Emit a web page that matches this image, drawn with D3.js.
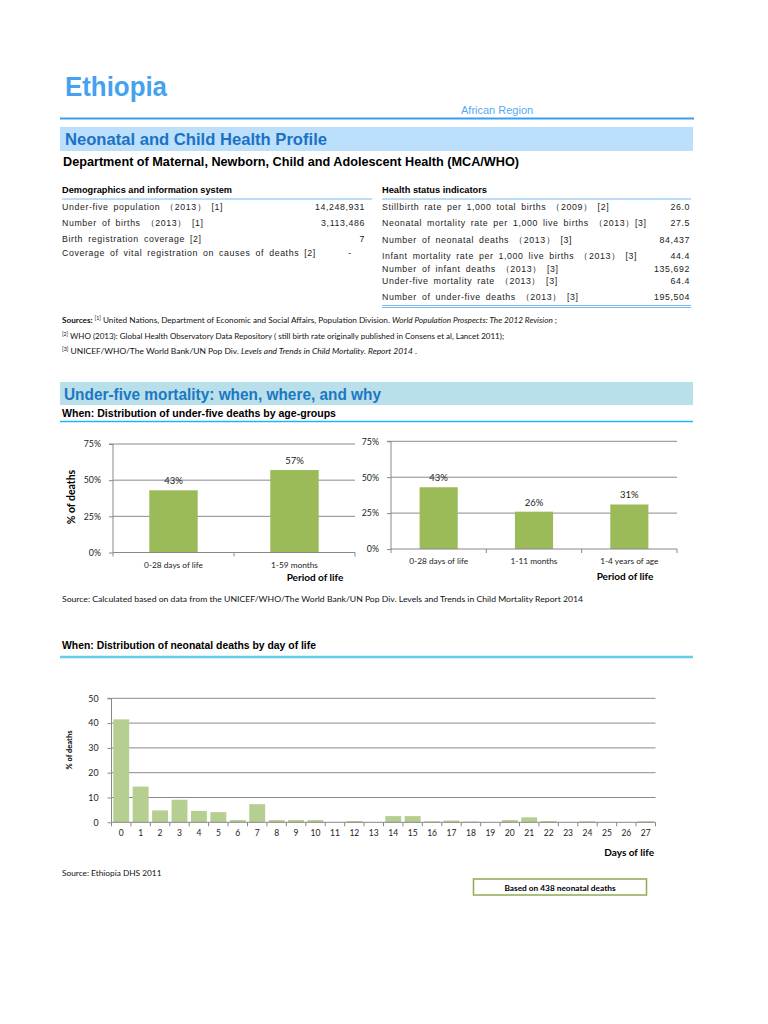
<!DOCTYPE html>
<html><head><meta charset="utf-8">
<script src="https://cdn.jsdelivr.net/npm/d3@7"></script>
<style>body{margin:0;background:#fff}svg{display:block}</style>
</head><body><svg id="c" width="768" height="1024"></svg>
<script>
// ---------- data ----------
const country = "Ethiopia";
const region = "African  Region";
const demoLabels = ["Under-five population （2013） [1]", "Number of births （2013） [1]", "Birth registration coverage [2]", "Coverage of vital registration on causes of deaths [2]"];
const demoValues = ["14,248,931", "3,113,486", "7", "-"];
const healthLabels = ["Stillbirth rate per 1,000 total births （2009） [2]", "Neonatal mortality rate per 1,000 live births （2013）[3]", "Number of neonatal deaths （2013） [3]", "Infant mortality rate per 1,000 live births （2013） [3]", "Number of infant deaths （2013） [3]", "Under-five mortality rate （2013） [3]", "Number of under-five deaths （2013） [3]"];
const healthValues = ["26.0", "27.5", "84,437", "44.4", "135,692", "64.4", "195,504"];

const ageCats1 = ["0-28 days of life", "1-59 months"];
const ageVals1 = [43, 57];
const ageCats2 = ["0-28 days of life", "1-11 months", "1-4 years of age"];
const ageVals2 = [43, 26, 31];
const pctTicks = [0, 25, 50, 75];

const dayCats = ["0","1","2","3","4","5","6","7","8","9","10","11","12","13","14","15","16","17","18","19","20","21","22","23","24","25","26","27"];
const dayVals = [41.5, 14.4, 4.8, 9.1, 4.6, 4.1, 0.9, 7.3, 0.9, 0.9, 0.9, 0, 0.5, 0, 2.5, 2.5, 0.4, 0.7, 0.3, 0, 0.9, 2.0, 0.5, 0, 0.4, 0, 0, 0.4];
const dayTicks = [0, 10, 20, 30, 40, 50];

// ---------- helpers ----------
const svg = d3.select("#c");
const SANS = "'Liberation Sans', Arial, sans-serif";
const NARROW = "'Liberation Sans Narrow', 'Liberation Sans', Arial, sans-serif";
const CAL = "Lato, 'Open Sans', sans-serif";
function txt(x, y, s, o = {}) {
  const t = svg.append("text").attr("x", x).attr("y", y).text(s)
    .attr("font-family", o.ff || SANS).attr("font-size", o.fs || 10)
    .attr("font-weight", o.fw || "normal").attr("fill", o.fill || "#000")
    .attr("text-anchor", o.anchor || "start");
  if (o.tl) t.attr("textLength", o.tl).attr("lengthAdjust", "spacingAndGlyphs");
  if (o.ls) t.attr("letter-spacing", o.ls);
  if (o.ws) t.attr("word-spacing", o.ws);
  if (o.rot) t.attr("transform", `rotate(${o.rot},${x},${y})`);
  return t;
}
function hline(x1, x2, y, color, w) {
  svg.append("line").attr("x1", x1).attr("x2", x2).attr("y1", y).attr("y2", y)
    .attr("stroke", color).attr("stroke-width", w);
}

// ---------- header ----------
txt(65, 96, country, {fs: 27, fw: "bold", fill: "#45a2f0", tl: 102});
txt(461, 114, region, {fs: 11, fill: "#5aa9f0"});
hline(60, 694, 118.5, "#3a9ef0", 2);
svg.append("rect").attr("x", 60).attr("y", 127).attr("width", 633).attr("height", 24).attr("fill", "#bcdffb");
txt(65, 145, "Neonatal and Child Health Profile", {ff: NARROW, fs: 17, fw: "bold", fill: "#1b72c4", tl: 262});
txt(63, 166, "Department of Maternal, Newborn, Child and Adolescent Health  (MCA/WHO)", {fs: 12.5, fw: "bold", tl: 456});

// ---------- tables ----------
const rowStyle = {fs: 8.8, fill: "#222", ls: 0.6, ws: 2};
txt(62, 193, "Demographics and information system", {fs: 9, fw: "bold", tl: 170});
hline(62, 372, 199, "#7ab8f0", 1);
const demoY = [210, 226, 242, 256];
demoLabels.forEach((l, i) => {
  txt(62, demoY[i], l, rowStyle);
  if (demoValues[i] === "-") txt(350, demoY[i], demoValues[i], {...rowStyle, anchor: "middle"});
  else txt(365, demoY[i], demoValues[i], {...rowStyle, anchor: "end"});
});
txt(382, 193, "Health status indicators", {fs: 9, fw: "bold", tl: 105});
hline(382, 691, 199, "#7ab8f0", 1);
const healthY = [210, 226, 243, 259, 272, 284, 300];
healthLabels.forEach((l, i) => {
  txt(382, healthY[i], l, rowStyle);
  txt(690, healthY[i], healthValues[i], {...rowStyle, anchor: "end"});
});
hline(382, 691, 305.5, "#7ab8f0", 1);
hline(382, 691, 307.5, "#7ab8f0", 1);

// ---------- sources ----------
{
  const t1 = svg.append("text").attr("x", 62).attr("y", 323).attr("font-family", CAL).attr("font-size", 7.8).attr("fill", "#111")
    .attr("textLength", 495).attr("lengthAdjust", "spacingAndGlyphs");
  t1.append("tspan").attr("font-weight", "bold").text("Sources: ");
  t1.append("tspan").attr("font-size", 5).attr("dy", -3).text("[1]");
  t1.append("tspan").attr("dy", 3).text(" United Nations, Department of Economic and Social Affairs, Population Division. ");
  t1.append("tspan").attr("font-style", "italic").text("World Population Prospects: The 2012 Revision");
  t1.append("tspan").text(" ;");
  const t2 = svg.append("text").attr("x", 62).attr("y", 339).attr("font-family", CAL).attr("font-size", 7.8).attr("fill", "#111")
    .attr("textLength", 442).attr("lengthAdjust", "spacingAndGlyphs");
  t2.append("tspan").attr("font-size", 5).attr("dy", -3).text("[2]");
  t2.append("tspan").attr("dy", 3).text(" WHO (2013): Global Health Observatory Data Repository ( still birth rate originally published in Consens et al,  Lancet 2011);");
  const t3 = svg.append("text").attr("x", 62).attr("y", 354).attr("font-family", CAL).attr("font-size", 7.8).attr("fill", "#111")
    .attr("textLength", 355).attr("lengthAdjust", "spacingAndGlyphs");
  t3.append("tspan").attr("font-size", 5).attr("dy", -3).text("[3]");
  t3.append("tspan").attr("dy", 3).text(" UNICEF/WHO/The World Bank/UN Pop Div. ");
  t3.append("tspan").attr("font-style", "italic").text("Levels and Trends in Child Mortality. Report 2014");
  t3.append("tspan").text(" .");
}

// ---------- section 2 header ----------
svg.append("rect").attr("x", 60).attr("y", 382).attr("width", 633).attr("height", 23).attr("fill", "#b9dfea");
txt(64, 400, "Under-five mortality: when, where, and why", {ff: NARROW, fs: 17, fw: "bold", fill: "#1b78c2", tl: 317});
txt(62, 417, "When: Distribution of under-five deaths by age-groups", {ff: NARROW, fs: 11, fw: "bold", tl: 274});
hline(60, 693, 421.5, "#22b4ee", 1.5);

// ---------- bar chart helper ----------
function barChart(cats, vals, ticks, o) {
  const x = d3.scaleBand().domain(cats).range([o.x0, o.x1]).paddingInner(o.pad).paddingOuter(o.pad / 2);
  const y = d3.scaleLinear().domain([0, d3.max(ticks)]).range([o.yb, o.yt]);
  const g = svg.append("g");
  g.selectAll(".grid").data(ticks.filter(d => d > 0)).join("line")
    .attr("x1", o.x0).attr("x2", o.x1).attr("y1", d => y(d)).attr("y2", d => y(d))
    .attr("stroke", "#8a8a8a").attr("stroke-width", 1);
  const ya = g.append("g").attr("transform", `translate(${o.x0},0)`)
    .call(d3.axisLeft(y).tickValues(ticks).tickSize(4).tickPadding(o.tpad || 8).tickFormat(o.fmt));
  ya.select(".domain").attr("stroke", "#888").attr("d", `M-4,${o.yt}H0V${o.yb}`);
  ya.selectAll(".tick line").attr("stroke", "#888");
  ya.selectAll("text").attr("font-family", CAL).attr("font-size", o.tfs).attr("fill", "#222");
  g.selectAll(".bar").data(vals).join("rect")
    .attr("x", (d, i) => x(cats[i])).attr("width", x.bandwidth())
    .attr("y", d => y(d)).attr("height", d => y(0) - y(d))
    .attr("fill", o.color);
  g.append("line").attr("x1", o.x0).attr("x2", o.x1).attr("y1", o.yb).attr("y2", o.yb).attr("stroke", "#888");
  const step = x.step();
  g.selectAll(".xt").data(d3.range(cats.length + 1)).join("line")
    .attr("x1", i => o.x0 + i * step).attr("x2", i => o.x0 + i * step)
    .attr("y1", o.yb).attr("y2", o.yb + 4).attr("stroke", "#888");
  g.selectAll(".xl").data(cats).join("text")
    .attr("x", d => x(d) + x.bandwidth() / 2).attr("y", o.yb + o.xly)
    .attr("text-anchor", "middle").attr("font-family", CAL).attr("font-size", o.xfs).attr("fill", "#222")
    .text(d => d);
  if (o.labels) {
    g.selectAll(".vl").data(vals).join("text")
      .attr("x", (d, i) => x(cats[i]) + x.bandwidth() / 2).attr("y", d => y(d) - 6)
      .attr("text-anchor", "middle").attr("font-family", CAL).attr("font-size", 9.5).attr("fill", "#222")
      .text(d => d + "%");
  }
  return {x, y};
}

barChart(ageCats1, ageVals1, pctTicks, {x0: 113, x1: 355, yb: 552.5, yt: 444, pad: 0.6, color: "#9bbb59",
  fmt: d => d + "%", tfs: 8.8, xfs: 8.3, xly: 15, labels: true});
txt(315, 581, "Period of life", {ff: CAL, fs: 10, fw: "bold", anchor: "middle"});
txt(75, 497, "% of deaths", {ff: CAL, fs: 10.5, fw: "bold", anchor: "middle", rot: -90});

barChart(ageCats2, ageVals2, pctTicks, {x0: 391, x1: 677, yb: 549, yt: 441.3, pad: 0.6, color: "#9bbb59",
  fmt: d => d + "%", tfs: 8.8, xfs: 8.3, xly: 15, labels: true});
txt(625, 580, "Period of life", {ff: CAL, fs: 10, fw: "bold", anchor: "middle"});

txt(62, 602, "Source: Calculated based on data from the  UNICEF/WHO/The World Bank/UN Pop Div. Levels and Trends in Child Mortality Report 2014", {ff: CAL, fs: 7.6, fill: "#111", tl: 521});

// ---------- neonatal by day ----------
txt(62, 649, "When: Distribution of neonatal deaths by day of life", {ff: NARROW, fs: 11, fw: "bold", tl: 254});
hline(60, 693, 657, "#66ccee", 2.5);

barChart(dayCats, dayVals, dayTicks, {x0: 111.5, x1: 655.5, yb: 822.3, yt: 698.3, pad: 0.18, color: "#b6cf91",
  fmt: d => d, tfs: 8.8, xfs: 8.5, xly: 14, tpad: 9, labels: false});
txt(72, 750, "% of deaths", {ff: CAL, fs: 7.5, fw: "bold", anchor: "middle", rot: -90});
txt(654, 856, "Days of life", {ff: CAL, fs: 10, fw: "bold", anchor: "end"});

txt(62, 876, "Source: Ethiopia DHS 2011", {ff: CAL, fs: 8.3, fill: "#111"});
svg.append("rect").attr("x", 473.5).attr("y", 879).attr("width", 173).attr("height", 16)
  .attr("fill", "#fff").attr("stroke", "#8fab55").attr("stroke-width", 1.5);
txt(560, 890.5, "Based on 438 neonatal deaths", {ff: CAL, fs: 8.3, fw: "bold", anchor: "middle"});
</script></body></html>
